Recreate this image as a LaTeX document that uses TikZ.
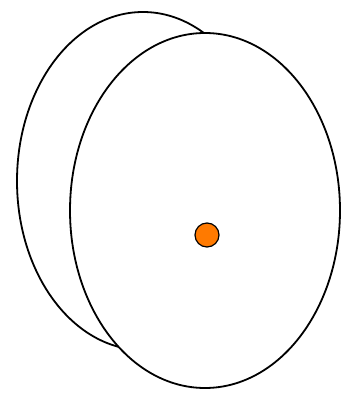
\documentclass[tikz,border=0pt]{standalone}
\usetikzlibrary{shapes.geometric}
\definecolor{dotorange}{HTML}{FF7A00}
\begin{document}
\begin{tikzpicture}[x=1pt,y=-1pt,
  disc/.style={ellipse,draw=black,fill=white,line width=1.8pt,inner sep=0pt},
  pin/.style={circle,draw=black,fill=dotorange,line width=1.2pt,inner sep=0pt,minimum size=24pt}]
\useasboundingbox (0,0) rectangle (345,396);
\node[disc,minimum width=252pt,minimum height=338pt] (back) at (143,181) {};
\node[disc,minimum width=270pt,minimum height=355pt] (front) at (205,210.5) {};
\node[pin] (dot) at (207,235) {};
\end{tikzpicture}
\end{document}
